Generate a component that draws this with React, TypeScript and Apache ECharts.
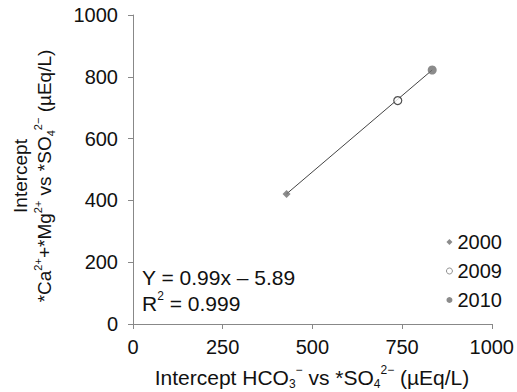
import React, { useEffect, useRef } from "react";
import * as echarts from "echarts";

const years = ["2000", "2009", "2010"];
const xValues = [428, 738, 834];
const yValues = [421, 723, 822];
const trendStart = [428, 421];
const trendEnd = [834, 822];
const xTicks = [0, 250, 500, 750, 1000];
const yTicks = [0, 200, 400, 600, 800, 1000];
const equationLines = ["Y = 0.99x – 5.89", "R{sup|2} = 0.999"];

const FONT = "Liberation Sans, Arial, Helvetica, sans-serif";

export default function App() {
  const ref = useRef<HTMLDivElement>(null);
  useEffect(() => {
    if (!ref.current) return;
    document.body.style.margin = "0";
    const chart = echarts.init(ref.current, null, { renderer: "svg" });
    const symbols = ["diamond", "circle", "circle"];
    const sizes = [8, 8, 9];
    const itemStyles = [
      { color: "#6e6e6e" },
      { color: "#ffffff", borderColor: "#222", borderWidth: 1.2 },
      { color: "#6e6e6e" },
    ];
    const legendStyles = [
      { color: "#6e6e6e" },
      { color: "#ffffff", borderColor: "#666", borderWidth: 0.9 },
      { color: "#6e6e6e" },
    ];
    const mk = (fs: number, lh: number) => ({
      sup: { fontSize: fs, verticalAlign: "top", lineHeight: lh, fontFamily: FONT, fill: "#111" },
      sub: { fontSize: fs, verticalAlign: "bottom", lineHeight: lh, fontFamily: FONT, fill: "#111" },
    });
    chart.setOption({
      animation: false,
      textStyle: { fontFamily: FONT },
      grid: { left: 133, right: 22, top: 15, bottom: 68 },
      xAxis: {
        type: "value",
        min: xTicks[0],
        max: xTicks[xTicks.length - 1],
        interval: 250,
        splitLine: { show: false },
        axisLine: { lineStyle: { color: "#888", width: 1 } },
        axisTick: { show: true, length: 5, lineStyle: { color: "#888" } },
        axisLabel: { color: "#111", fontSize: 20, margin: 13, fontFamily: FONT, formatter: (v: number) => String(v) },
      },
      yAxis: {
        type: "value",
        min: yTicks[0],
        max: yTicks[yTicks.length - 1],
        interval: 200,
        splitLine: { show: false },
        axisLine: { show: true, lineStyle: { color: "#888", width: 1 } },
        axisTick: { show: true, length: 5, lineStyle: { color: "#888" } },
        axisLabel: { color: "#111", fontSize: 20, margin: 15, fontFamily: FONT, formatter: (v: number) => String(v) },
      },
      legend: {
        orient: "vertical",
        left: 446,
        top: 232,
        padding: 0,
        itemGap: 9,
        itemWidth: 6,
        itemHeight: 6,
        textStyle: { fontSize: 20, lineHeight: 20, color: "#111", fontFamily: FONT },
        data: years.map((y, i) => ({ name: y, icon: symbols[i], itemStyle: legendStyles[i] })),
      },
      series: [
        {
          type: "line",
          data: [trendStart, trendEnd],
          symbol: "none",
          lineStyle: { color: "#444", width: 1 },
          silent: true,
          z: 1,
        },
        ...years.map((y, i) => ({
          name: y,
          type: "scatter",
          symbol: symbols[i],
          symbolSize: sizes[i],
          itemStyle: itemStyles[i],
          data: [[xValues[i], yValues[i]]],
          z: 3,
        })),
      ],
      graphic: [
        {
          type: "text",
          left: 142,
          top: 264,
          style: {
            text: equationLines.join("\n"),
            fontSize: 21,
            lineHeight: 26,
            fontFamily: FONT,
            fill: "#111",
            rich: { sup: { fontSize: 12, verticalAlign: "top", lineHeight: 26, fontFamily: FONT, fill: "#111" } },
          },
        },
        {
          type: "text",
          x: 312,
          y: 377,
          style: {
            text: "Intercept HCO{sub|3}{sup|−} vs *SO{sub|4}{sup|2−} (µEq/L)",
            fontSize: 21,
            fontFamily: FONT,
            fill: "#111",
            align: "center",
            verticalAlign: "middle",
            lineHeight: 26,
            rich: mk(12, 26),
          },
        },
        {
          type: "text",
          x: 32,
          y: 176,
          rotation: Math.PI / 2,
          style: {
            text: "Intercept\n*Ca{sup|2+}+*Mg{sup|2+} vs *SO{sub|4}{sup|2−} (µEq/L)",
            fontSize: 19,
            fontFamily: FONT,
            fill: "#111",
            align: "center",
            verticalAlign: "middle",
            lineHeight: 24,
            rich: mk(11, 24),
          },
        },
      ],
    });
    return () => chart.dispose();
  }, []);
  return <div ref={ref} style={{ width: 517, height: 392 }} />;
}
